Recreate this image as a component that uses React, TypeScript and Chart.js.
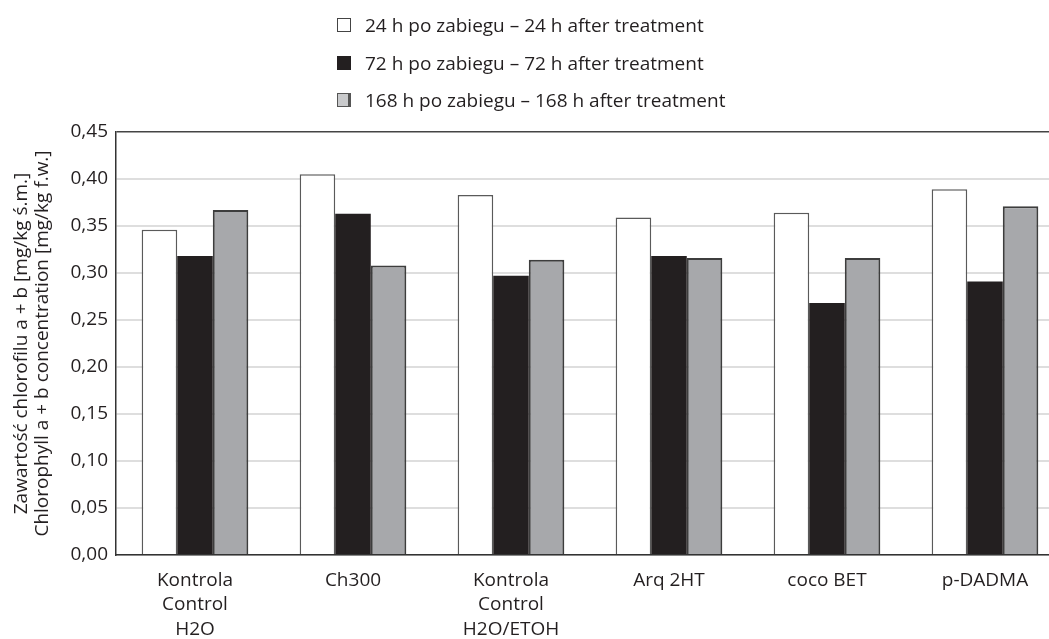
import React, { useEffect, useRef } from "react";
import { Chart, registerables } from "chart.js";

Chart.register(...registerables);

const categories: string[][] = [
  ["Kontrola", "Control", "H2O"],
  ["Ch300"],
  ["Kontrola", "Control", "H2O/ETOH"],
  ["Arq 2HT"],
  ["coco BET"],
  ["p-DADMA"],
];

const series24h = [0.346, 0.405, 0.383, 0.359, 0.364, 0.389];
const series72h = [0.318, 0.363, 0.297, 0.318, 0.268, 0.291];
const series168h = [0.367, 0.308, 0.314, 0.316, 0.316, 0.371];

const legendLabels = [
  "24 h po zabiegu – 24 h after treatment",
  "72 h po zabiegu – 72 h after treatment",
  "168 h po zabiegu – 168 h after treatment",
];

const yTitle = [
  "Zawartość chlorofilu a + b [mg/kg ś.m.]",
  "Chlorophyll a + b concentration [mg/kg f.w.]",
];

const FONT = "'Open Sans', 'Noto Sans', sans-serif";
const TEXT = "#231f20";

export default function App() {
  const ref = useRef<HTMLCanvasElement | null>(null);

  useEffect(() => {
    if (!ref.current) return;
    const chart = new Chart(ref.current, {
      type: "bar",
      data: {
        labels: categories,
        datasets: [
          {
            label: legendLabels[0],
            data: series24h,
            backgroundColor: "#ffffff",
            borderColor: "#5a5a5a",
            borderWidth: 1.5,
            borderSkipped: "bottom",
          },
          {
            label: legendLabels[1],
            data: series72h,
            backgroundColor: "#231f20",
            borderColor: "#231f20",
            borderWidth: 0,
          },
          {
            label: legendLabels[2],
            data: series168h,
            backgroundColor: "#a7a8ab",
            borderColor: "#3d3d3d",
            borderWidth: 2,
            borderSkipped: "bottom",
          },
        ],
      },
      options: {
        animation: false,
        responsive: false,
        maintainAspectRatio: false,
        layout: { padding: { top: 132, left: 0, right: 0, bottom: 0 } },
        datasets: {
          bar: { categoryPercentage: 0.675, barPercentage: 1 },
        },
        plugins: {
          legend: { display: false },
          tooltip: { enabled: false },
        },
        scales: {
          x: {
            offset: true,
            grid: { display: false, drawTicks: false },
            border: { display: true, color: "#333333", width: 1.5 },
            ticks: {
              color: TEXT,
              font: { family: FONT, size: 19, lineHeight: 1.3 },
              padding: 13,
              maxRotation: 0,
              autoSkip: false,
            },
            afterFit: (scale: any) => {
              scale.height = 84;
            },
          },
          y: {
            min: 0,
            max: 0.45,
            ticks: {
              stepSize: 0.05,
              color: TEXT,
              font: { family: FONT, size: 19 },
              padding: 8,
              callback: (v: any) => Number(v).toFixed(2).replace(".", ","),
            },
            grid: {
              drawTicks: false,
              lineWidth: (ctx: any) => (ctx.tick && Math.abs(ctx.tick.value - 0.45) < 1e-6 ? 1.5 : 2),
              color: (ctx: any) =>
                ctx.tick && Math.abs(ctx.tick.value - 0.45) < 1e-6 ? "#444444" : "#dedede",
            },
            border: { display: true, color: "#333333", width: 1.5 },
            title: {
              display: true,
              text: yTitle,
              color: TEXT,
              font: { family: FONT, size: 19, lineHeight: 1.1 },
              padding: { top: 11, bottom: 0 },
            },
            afterFit: (scale: any) => {
              scale.width = 116;
            },
          },
        },
      },
    });
    return () => chart.destroy();
  }, []);

  const box = (i: number): React.CSSProperties => {
    if (i === 0) return { background: "#fff", border: "1.5px solid #444" };
    if (i === 1) return { background: "#231f20", border: "1.5px solid #231f20" };
    return {
      background: "#c9cacc",
      border: "1.5px solid #555",
      borderRightWidth: "3px",
    };
  };
  const legendY = [25, 63, 100];

  return (
    <div
      style={{
        position: "fixed",
        left: 0,
        top: 0,
        width: 1049,
        height: 639,
        overflow: "hidden",
        background: "#fff",
      }}
    >
      <canvas ref={ref} width={1064} height={639} style={{ display: "block", width: 1064, height: 639 }} />
      {legendLabels.map((t, i) => (
        <div
          key={i}
          style={{
            position: "absolute",
            left: 337,
            top: legendY[i] - 13,
            height: 26,
            display: "flex",
            alignItems: "center",
            fontFamily: FONT,
            fontSize: 19,
            color: TEXT,
            whiteSpace: "nowrap",
          }}
        >
          <span
            style={{
              display: "inline-block",
              width: 14,
              height: 14,
              boxSizing: "border-box",
              marginRight: 14,
              ...box(i),
            }}
          />
          <span>{t}</span>
        </div>
      ))}
    </div>
  );
}
